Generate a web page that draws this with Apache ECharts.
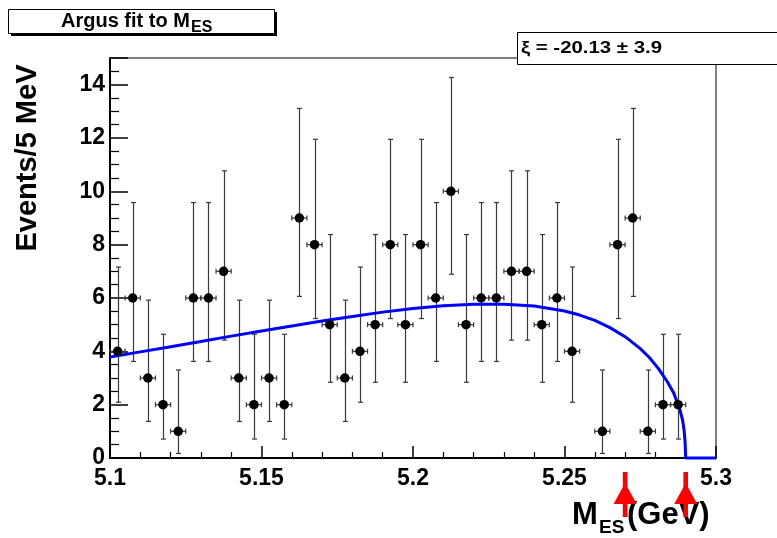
<!DOCTYPE html>
<html><head><meta charset="utf-8">
<script src="https://cdn.jsdelivr.net/npm/echarts@6/dist/echarts.min.js"></script>
<style>html,body{margin:0;padding:0;background:#fff}#c{width:777px;height:538px}</style>
</head><body><div id="c"></div>
<script>
// ---- data ----
const binCenters = [5.1025,5.1075,5.1125,5.1175,5.1225,5.1275,5.1325,5.1375,5.1425,5.1475,
                    5.1525,5.1575,5.1625,5.1675,5.1725,5.1775,5.1825,5.1875,5.1925,5.1975,
                    5.2025,5.2075,5.2125,5.2175,5.2225,5.2275,5.2325,5.2375,5.2425,5.2475,
                    5.2525,5.2575,5.2625,5.2675,5.2725,5.2775,5.2825,5.2875,5.2925,5.2975];
const counts = [4,6,3,2,1,6,6,7,3,2, 3,2,9,8,5,3,4,5,8,5, 8,6,10,5,6,6,7,7,5,6, 4,0,1,8,9,1,2,2,0,0];
const errLow = [2.09,3.62,1.37,0.71,0.17,3.62,3.62,4.42,1.37,0.71, 1.37,0.71,6.06,5.23,2.84,1.37,2.09,2.84,5.23,2.84,
                5.23,3.62,6.89,2.84,3.62,3.62,4.42,4.42,2.84,3.62, 2.09,null,0.17,5.23,6.06,0.17,0.71,0.71,null,null];
const errHigh = [7.16,9.58,5.92,4.64,3.30,9.58,9.58,10.77,5.92,4.64, 5.92,4.64,13.11,11.95,8.38,5.92,7.16,8.38,11.95,8.38,
                 11.95,9.58,14.27,8.38,9.58,9.58,10.77,10.77,8.38,9.58, 7.16,null,3.30,11.95,13.11,3.30,4.64,4.64,null,null];
const binHalfWidth = 0.0025;
const curveX = [5.100,5.110,5.120,5.130,5.140,5.150,5.160,5.170,5.180,5.190,5.200,5.210,5.220,5.230,5.240,5.250,
                5.255,5.260,5.265,5.270,5.275,5.278,5.281,5.284,5.286,5.288,5.289,5.2895,5.2898,5.290,5.300];
const curveY = [3.79,3.98,4.17,4.37,4.57,4.76,4.95,5.14,5.31,5.47,5.61,5.71,5.77,5.77,5.70,5.51,
                5.36,5.16,4.89,4.55,4.10,3.77,3.35,2.85,2.45,1.85,1.40,1.00,0.60,0,0];
const xTicks = [5.1,5.15,5.2,5.25,5.3];
const yTicks = [0,2,4,6,8,10,12,14];
const arrowPositions = [5.27, 5.29];
const titleText = 'Argus fit to M';
const titleSub = 'ES';
const statsText = 'ξ = -20.13 ± 3.9';
const yTitle = 'Events/5 MeV';

// ---- build series data ----
const pts = [], bars = [];
for (let i = 0; i < binCenters.length; i++) {
  if (counts[i] > 0) {
    pts.push([binCenters[i], counts[i]]);
    bars.push([binCenters[i], counts[i], errLow[i], errHigh[i]]);
  }
}
const curve = curveX.map((x, i) => [x, curveY[i]]);
const FF = '"Liberation Sans", Arial, Helvetica, sans-serif';

const chart = echarts.init(document.getElementById('c'), null, {renderer: 'canvas'});
const option = {
  animation: false,
  backgroundColor: '#fff',
  grid: {left: 110, right: 61, top: 58, bottom: 80, show: true, borderColor: '#000', borderWidth: 1, containLabel: false},
  xAxis: {
    type: 'value', min: xTicks[0], max: xTicks[xTicks.length - 1], interval: 0.05,
    axisLine: {show: true, onZero: false, lineStyle: {color: '#000', width: 2}},
    axisTick: {show: true, inside: true, length: 12, lineStyle: {color: '#000', width: 1.5}},
    minorTick: {show: true, splitNumber: 5, length: 6, lineStyle: {color: '#000', width: 1.2}},
    splitLine: {show: false}, minorSplitLine: {show: false},
    axisLabel: {color: '#000', fontWeight: 'bold', fontSize: 23, fontFamily: FF, margin: 9,
      formatter: v => String(+(+v).toFixed(2))}
  },
  yAxis: {
    type: 'value', min: 0, max: 15, interval: 2,
    axisLine: {show: true, onZero: false, lineStyle: {color: '#000', width: 2}},
    axisTick: {show: true, inside: true, length: 18, lineStyle: {color: '#000', width: 1.5}},
    minorTick: {show: true, splitNumber: 4, length: 9, lineStyle: {color: '#000', width: 1.2}},
    splitLine: {show: false}, minorSplitLine: {show: false},
    axisLabel: {color: '#000', fontWeight: 'bold', fontSize: 23, fontFamily: FF, margin: 5,
      formatter: v => (yTicks.indexOf(Math.round(v)) >= 0 && Math.abs(v - Math.round(v)) < 1e-6) ? String(Math.round(v)) : ''}
  },
  series: [
    {
      type: 'custom', data: bars, z: 2, encode: {x: 0, y: 1}, clip: false,
      renderItem: (params, api) => {
        const x = api.value(0), y = api.value(1), lo = api.value(2), hi = api.value(3);
        const t = api.coord([x, hi]), b = api.coord([x, lo]);
        const l = api.coord([x - binHalfWidth, y]), r = api.coord([x + binHalfWidth, y]);
        const st = {stroke: '#3a3a3a', lineWidth: 1.2, fill: null};
        const cx = Math.round(t[0]) + 0.5, cap = 2.5;
        return {type: 'group', children: [
          {type: 'line', shape: {x1: cx, y1: t[1], x2: cx, y2: b[1]}, style: st},
          {type: 'line', shape: {x1: cx - cap, y1: t[1], x2: cx + cap, y2: t[1]}, style: st},
          {type: 'line', shape: {x1: cx - cap, y1: b[1], x2: cx + cap, y2: b[1]}, style: st},
          {type: 'line', shape: {x1: l[0], y1: l[1], x2: r[0], y2: r[1]}, style: st},
          {type: 'line', shape: {x1: l[0], y1: l[1] - 2.5, x2: l[0], y2: l[1] + 2.5}, style: st},
          {type: 'line', shape: {x1: r[0], y1: r[1] - 2.5, x2: r[0], y2: r[1] + 2.5}, style: st}
        ]};
      }
    },
    {
      type: 'line', data: curve, z: 3, showSymbol: false, smooth: false, clip: false,
      lineStyle: {color: '#0000ff', width: 3}
    },
    {
      type: 'scatter', data: pts, z: 4, symbol: 'circle', symbolSize: 9.5,
      itemStyle: {color: '#000', opacity: 1}
    }
  ]
};
chart.setOption(option);

function buildGraphics() {
  const g = [];
  // title box with shadow
  g.push({type: 'rect', shape: {x: 11, y: 12, width: 266, height: 24}, style: {fill: '#000'}, z: 10});
  g.push({type: 'rect', shape: {x: 8.5, y: 9.5, width: 266, height: 24}, style: {fill: '#fff', stroke: '#000', lineWidth: 1}, z: 11});
  g.push({type: 'text', x: 61, y: 21, z: 12, style: {text: titleText, font: 'bold 20px ' + FF, fill: '#000', textAlign: 'left', textVerticalAlign: 'middle'}});
  g.push({type: 'text', x: 191, y: 27.5, z: 12, style: {text: titleSub, font: 'bold 16px ' + FF, fill: '#000', textAlign: 'left', textVerticalAlign: 'middle'}});
  // stats box
  g.push({type: 'rect', shape: {x: 517.5, y: 32.5, width: 270, height: 32}, style: {fill: '#fff', stroke: '#000', lineWidth: 1}, z: 11});
  g.push({type: 'text', x: 521, y: 48.5, scaleX: 1.2, scaleY: 1, z: 12, style: {text: statsText, font: 'bold 17px ' + FF, fill: '#000', textAlign: 'left', textVerticalAlign: 'middle'}});
  // y axis title
  g.push({type: 'text', x: 28, y: 158, rotation: Math.PI / 2, z: 12, style: {text: yTitle, font: 'bold 29px ' + FF, fill: '#000', textAlign: 'center', textVerticalAlign: 'middle'}});
  // x axis title
  g.push({type: 'text', x: 572, y: 515, z: 12, style: {text: 'M', font: 'bold 31px ' + FF, fill: '#000', textAlign: 'left', textVerticalAlign: 'middle'}});
  g.push({type: 'text', x: 599, y: 528, z: 12, style: {text: 'ES', font: 'bold 19px ' + FF, fill: '#000', textAlign: 'left', textVerticalAlign: 'middle'}});
  g.push({type: 'text', x: 627, y: 515, z: 12, style: {text: '(GeV)', font: 'bold 31px ' + FF, fill: '#000', textAlign: 'left', textVerticalAlign: 'middle'}});
  // arrows
  arrowPositions.forEach(v => {
    const cx = chart.convertToPixel({xAxisIndex: 0}, v);
    g.push({type: 'rect', shape: {x: cx - 2.3, y: 472, width: 4.6, height: 45}, style: {fill: '#ff0000'}, z: 13});
    g.push({type: 'polygon', shape: {points: [[cx, 483], [cx - 11.5, 504], [cx + 11.5, 504]]}, style: {fill: '#ff0000'}, z: 13});
  });
  return g;
}
chart.setOption({graphic: buildGraphics()});
</script>
</body></html>
